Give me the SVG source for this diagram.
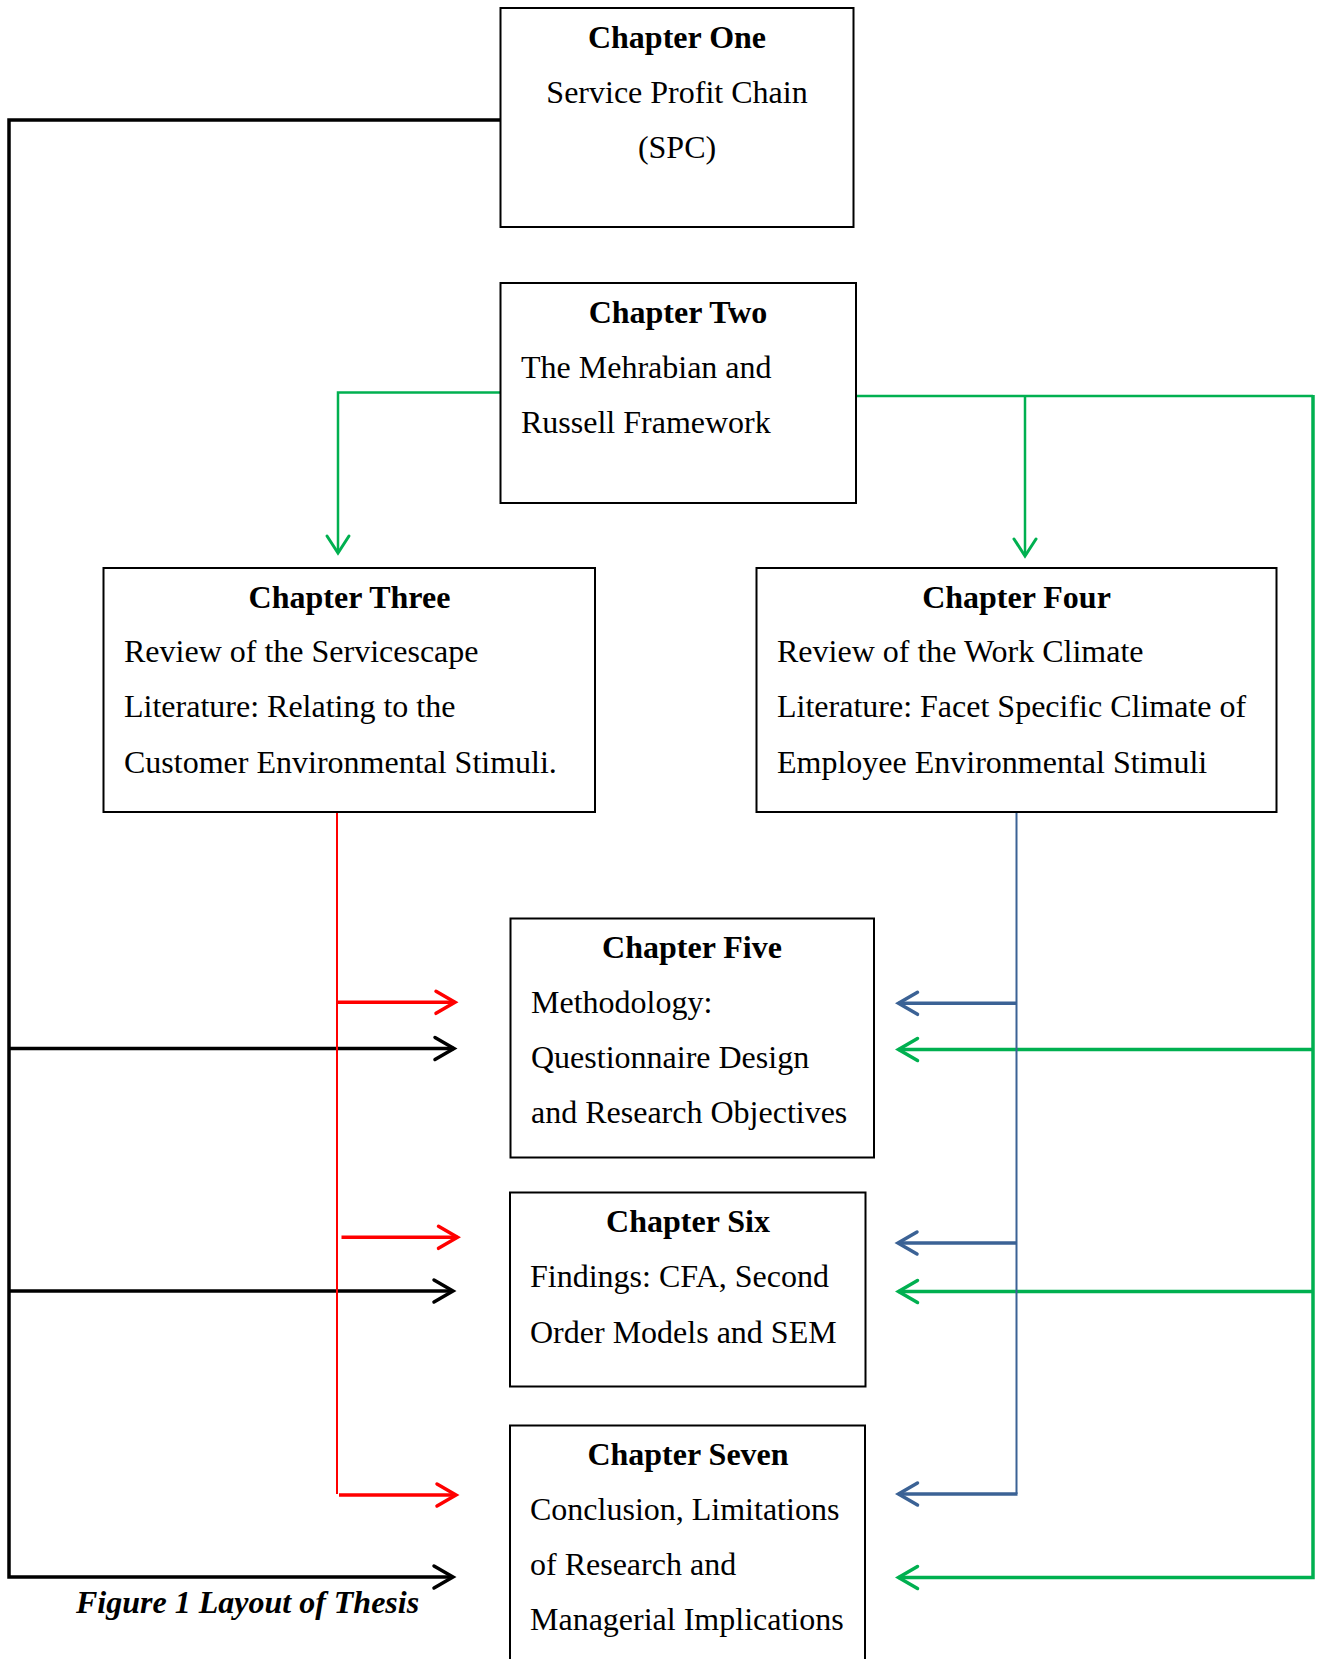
<svg xmlns="http://www.w3.org/2000/svg" width="1322" height="1659" viewBox="0 0 1322 1659">
  <style>
    .box { fill: #ffffff; stroke: #000000; stroke-width: 2; }
    .title { font-family: "Liberation Serif", "Times New Roman", serif; font-size: 32px; font-weight: bold; text-anchor: middle; fill: #000; }
    .body { font-family: "Liberation Serif", "Times New Roman", serif; font-size: 32px; fill: #000; }
    .mid { text-anchor: middle; }
    .caption { font-family: "Liberation Serif", "Times New Roman", serif; font-size: 32px; font-weight: bold; font-style: italic; fill: #000; }
    .ln { fill: none; stroke-linecap: butt; stroke-linejoin: miter; }
    .black { stroke: #000000; stroke-width: 3.5; }
    .green { stroke: #00B050; stroke-width: 3.5; }
    .greenThin { stroke: #00B050; stroke-width: 2.5; }
    .red { stroke: #FF0000; stroke-width: 2; }
    .redArrow { stroke: #FF0000; stroke-width: 3.5; }
    .blue { stroke: #3B6295; stroke-width: 2; }
    .blueArrow { stroke: #3B6295; stroke-width: 3.5; }
  </style>
  <defs>
    <marker id="headBlack" markerUnits="userSpaceOnUse" markerWidth="30" markerHeight="30" viewBox="-24 -15 30 30" refX="0" refY="0" orient="auto">
      <path d="M-19,-11 L0,0 L-19,11" fill="none" stroke="#000000" stroke-width="3.5" stroke-linecap="round"/>
    </marker>
    <marker id="headRed" markerUnits="userSpaceOnUse" markerWidth="30" markerHeight="30" viewBox="-24 -15 30 30" refX="0" refY="0" orient="auto">
      <path d="M-19,-11 L0,0 L-19,11" fill="none" stroke="#FF0000" stroke-width="3.5" stroke-linecap="round"/>
    </marker>
    <marker id="headBlue" markerUnits="userSpaceOnUse" markerWidth="30" markerHeight="30" viewBox="-24 -15 30 30" refX="0" refY="0" orient="auto">
      <path d="M-19,-11 L0,0 L-19,11" fill="none" stroke="#3B6295" stroke-width="3.5" stroke-linecap="round"/>
    </marker>
    <marker id="headGreen" markerUnits="userSpaceOnUse" markerWidth="30" markerHeight="30" viewBox="-24 -15 30 30" refX="0" refY="0" orient="auto">
      <path d="M-19,-11 L0,0 L-19,11" fill="none" stroke="#00B050" stroke-width="3.5" stroke-linecap="round"/>
    </marker>
    <marker id="headGreenDown" markerUnits="userSpaceOnUse" markerWidth="30" markerHeight="30" viewBox="-24 -15 30 30" refX="0" refY="0" orient="auto">
      <path d="M-17,-11 L0,0 L-17,11" fill="none" stroke="#00B050" stroke-width="3" stroke-linecap="round"/>
    </marker>
  </defs>

  <rect width="1322" height="1659" fill="#ffffff"/>

  <!-- Connectors -->
  <g id="connectors">
    <!-- Chapter One feeds chapters five to seven from the left -->
    <path class="ln black" d="M500,120 L9,120 L9,1577 L453,1577" marker-end="url(#headBlack)"/>
    <path class="ln black" d="M9,1048.5 L454,1048.5" marker-end="url(#headBlack)"/>
    <path class="ln black" d="M9,1291 L453,1291" marker-end="url(#headBlack)"/>

    <!-- Chapter Two to Chapter Three -->
    <path class="ln greenThin" d="M500,392.5 L338,392.5 L338,553" marker-end="url(#headGreenDown)"/>
    <!-- Chapter Two to Chapter Four and the right-hand trunk -->
    <path class="ln greenThin" d="M854,396 L1313,396"/>
    <path class="ln greenThin" d="M1025,396 L1025,556" marker-end="url(#headGreenDown)"/>
    <path class="ln green" d="M1313,395 L1313,1577.5 L898.5,1577.5" marker-end="url(#headGreen)"/>
    <path class="ln green" d="M1313,1049.5 L898.5,1049.5" marker-end="url(#headGreen)"/>
    <path class="ln green" d="M1313,1291.5 L898.5,1291.5" marker-end="url(#headGreen)"/>

    <!-- Chapter Three trunk -->
    <path class="ln red" d="M337,812 L337,1494"/>
    <path class="ln redArrow" d="M337,1002.3 L455,1002.3" marker-end="url(#headRed)"/>
    <path class="ln redArrow" d="M341.5,1237.3 L457.5,1237.3" marker-end="url(#headRed)"/>
    <path class="ln redArrow" d="M339,1495 L456,1495" marker-end="url(#headRed)"/>

    <!-- Chapter Four trunk -->
    <path class="ln blue" d="M1016.5,812 L1016.5,1494"/>
    <path class="ln blueArrow" d="M1016.5,1003.3 L898.5,1003.3" marker-end="url(#headBlue)"/>
    <path class="ln blueArrow" d="M1016.5,1243 L898,1243" marker-end="url(#headBlue)"/>
    <path class="ln blueArrow" d="M1017.5,1494 L898.5,1494" marker-end="url(#headBlue)"/>
  </g>

  <!-- Chapter One -->
  <g id="chapter-one">
    <rect class="box" x="500.5" y="8" width="353" height="219"/>
    <text class="title" x="677" y="48">Chapter One</text>
    <text class="body mid" x="677" y="103">Service Profit Chain</text>
    <text class="body mid" x="677" y="158">(SPC)</text>
  </g>

  <!-- Chapter Two -->
  <g id="chapter-two">
    <rect class="box" x="500.5" y="283" width="355.5" height="220"/>
    <text class="title" x="678" y="323">Chapter Two</text>
    <text class="body" x="521" y="378">The Mehrabian and</text>
    <text class="body" x="521" y="433">Russell Framework</text>
  </g>

  <!-- Chapter Three -->
  <g id="chapter-three">
    <rect class="box" x="103.5" y="568" width="491.5" height="244"/>
    <text class="title" x="349.5" y="608">Chapter Three</text>
    <text class="body" x="124" y="662">Review of the Servicescape</text>
    <text class="body" x="124" y="717">Literature: Relating to the</text>
    <text class="body" x="124" y="773">Customer Environmental Stimuli.</text>
  </g>

  <!-- Chapter Four -->
  <g id="chapter-four">
    <rect class="box" x="756.5" y="568" width="520" height="244"/>
    <text class="title" x="1016.5" y="608">Chapter Four</text>
    <text class="body" x="777" y="662">Review of the Work Climate</text>
    <text class="body" x="777" y="717">Literature: Facet Specific Climate of</text>
    <text class="body" x="777" y="773">Employee Environmental Stimuli</text>
  </g>

  <!-- Chapter Five -->
  <g id="chapter-five">
    <rect class="box" x="510.5" y="918.5" width="363.5" height="239"/>
    <text class="title" x="692" y="958">Chapter Five</text>
    <text class="body" x="531" y="1013">Methodology:</text>
    <text class="body" x="531" y="1068">Questionnaire Design</text>
    <text class="body" x="531" y="1123">and Research Objectives</text>
  </g>

  <!-- Chapter Six -->
  <g id="chapter-six">
    <rect class="box" x="510" y="1192.5" width="355.5" height="194"/>
    <text class="title" x="688" y="1232">Chapter Six</text>
    <text class="body" x="530" y="1287">Findings: CFA, Second</text>
    <text class="body" x="530" y="1343">Order Models and SEM</text>
  </g>

  <!-- Chapter Seven (continues past the lower edge) -->
  <g id="chapter-seven">
    <rect class="box" x="510" y="1425.5" width="355" height="260"/>
    <text class="title" x="688" y="1465">Chapter Seven</text>
    <text class="body" x="530" y="1520">Conclusion, Limitations</text>
    <text class="body" x="530" y="1575">of Research and</text>
    <text class="body" x="530" y="1630">Managerial Implications</text>
  </g>

  <!-- Figure caption -->
  <text class="caption" x="76" y="1613">Figure 1 Layout of Thesis</text>
</svg>
